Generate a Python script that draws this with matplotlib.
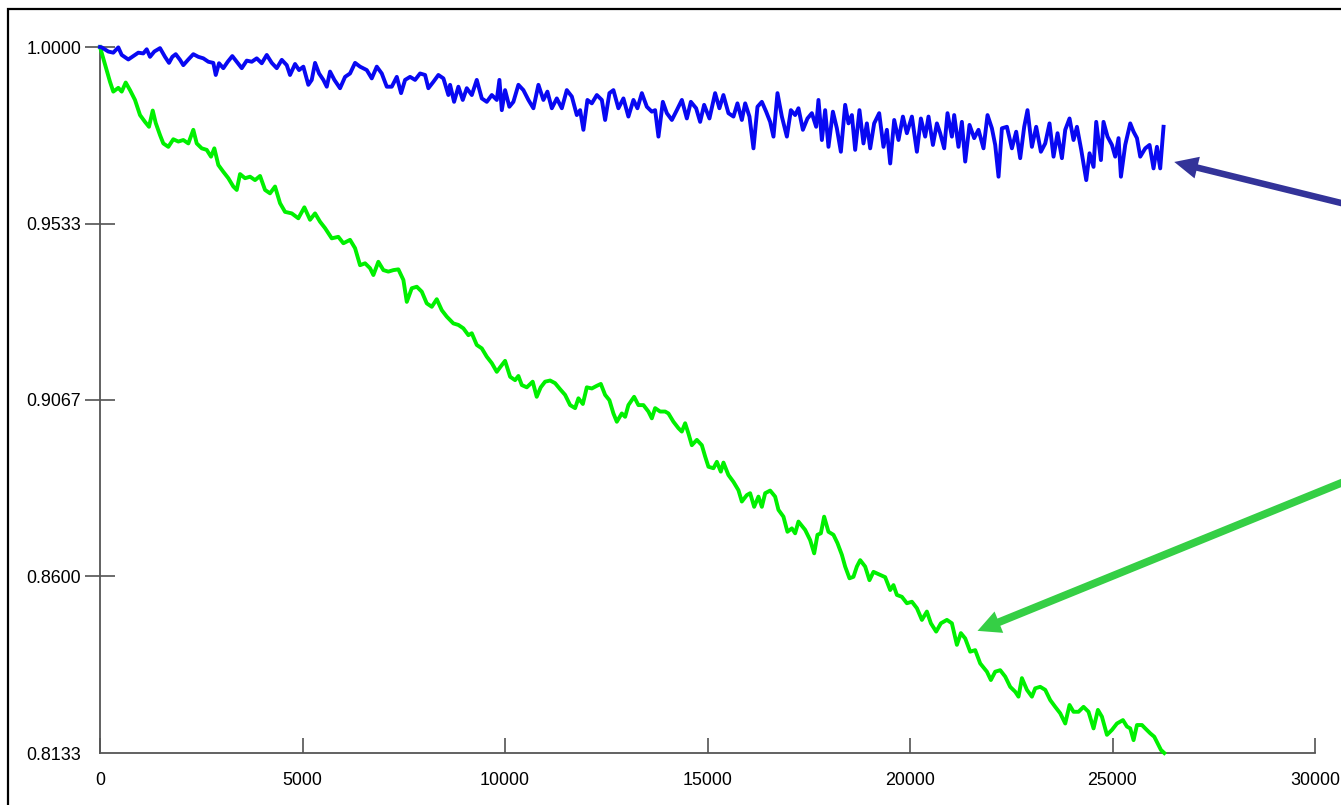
import matplotlib
matplotlib.use("Agg")
import matplotlib.pyplot as plt
from matplotlib.patches import Rectangle

# ---------------- data ----------------
green_x = [0,165,247,328,452,536,635,741,864,988,1111,1210,1302,1376,1482,1563,1687,1810,1934,2057,2181,2304,2388,2512,2635,2741,2823,2922,3045,3169,3292,3376,3458,3581,3705,3828,3952,4075,4198,4322,4445,4569,4734,4897,5046,5186,5310,5433,5557,5722,5885,6009,6174,6298,6421,6545,6668,6750,6873,6997,7120,7244,7367,7491,7575,7698,7822,7945,8068,8192,8315,8439,8562,8725,8849,8972,9096,9180,9303,9427,9550,9674,9797,9879,10002,10126,10249,10331,10415,10538,10684,10783,10882,10990,11114,11237,11361,11484,11608,11731,11813,11922,12020,12144,12267,12366,12472,12578,12677,12761,12884,12966,13047,13188,13294,13418,13541,13625,13707,13830,13954,14035,14159,14282,14366,14448,14529,14613,14737,14860,14942,15023,15147,15231,15329,15394,15517,15641,15764,15848,15971,16053,16152,16258,16342,16424,16547,16670,16752,16875,16974,17083,17164,17246,17411,17535,17634,17715,17799,17880,17987,18110,18209,18318,18399,18506,18604,18688,18770,18893,18999,19098,19222,19387,19511,19592,19676,19800,19923,20047,20170,20294,20417,20516,20646,20763,20911,21034,21158,21256,21363,21486,21610,21733,21899,21997,22104,22227,22351,22474,22598,22679,22763,22887,23010,23092,23215,23339,23462,23586,23709,23833,23939,24038,24161,24285,24408,24532,24640,24739,24863,24986,25110,25258,25356,25438,25520,25604,25727,25809,25932,26031,26113,26197,26278]
green_y = [1.0000,0.9939,0.9908,0.9882,0.9892,0.9882,0.9906,0.9886,0.9860,0.9820,0.9802,0.9789,0.9832,0.9799,0.9767,0.9745,0.9736,0.9756,0.9750,0.9754,0.9745,0.9781,0.9745,0.9732,0.9728,0.9710,0.9732,0.9688,0.9670,0.9653,0.9631,0.9622,0.9664,0.9653,0.9657,0.9648,0.9659,0.9622,0.9613,0.9631,0.9587,0.9564,0.9560,0.9547,0.9576,0.9543,0.9560,0.9538,0.9521,0.9494,0.9498,0.9481,0.9490,0.9468,0.9423,0.9428,0.9415,0.9397,0.9432,0.9410,0.9406,0.9410,0.9412,0.9384,0.9326,0.9362,0.9366,0.9353,0.9322,0.9313,0.9333,0.9304,0.9287,0.9269,0.9265,0.9256,0.9238,0.9243,0.9212,0.9203,0.9181,0.9164,0.9141,0.9153,0.9170,0.9128,0.9119,0.9130,0.9106,0.9100,0.9115,0.9075,0.9100,0.9115,0.9118,0.9111,0.9095,0.9080,0.9053,0.9045,0.9071,0.9056,0.9100,0.9097,0.9104,0.9109,0.9080,0.9066,0.9031,0.9009,0.9031,0.9022,0.9053,0.9075,0.9053,0.9053,0.9036,0.9018,0.9045,0.9036,0.9036,0.9031,0.9009,0.8992,0.8983,0.9005,0.8978,0.8947,0.8961,0.8947,0.8917,0.8890,0.8886,0.8903,0.8877,0.8901,0.8868,0.8850,0.8828,0.8798,0.8815,0.8820,0.8784,0.8811,0.8784,0.8820,0.8827,0.8811,0.8776,0.8758,0.8718,0.8727,0.8714,0.8745,0.8723,0.8696,0.8661,0.8710,0.8714,0.8758,0.8718,0.8710,0.8688,0.8657,0.8626,0.8595,0.8599,0.8626,0.8643,0.8626,0.8590,0.8612,0.8606,0.8598,0.8564,0.8577,0.8551,0.8546,0.8529,0.8533,0.8516,0.8485,0.8507,0.8476,0.8454,0.8476,0.8485,0.8476,0.8419,0.8450,0.8436,0.8401,0.8405,0.8370,0.8348,0.8326,0.8348,0.8352,0.8335,0.8308,0.8295,0.8282,0.8331,0.8300,0.8282,0.8304,0.8308,0.8300,0.8273,0.8255,0.8238,0.8211,0.8260,0.8242,0.8242,0.8255,0.8242,0.8198,0.8247,0.8229,0.8181,0.8194,0.8211,0.8220,0.8203,0.8198,0.8167,0.8207,0.8207,0.8198,0.8185,0.8176,0.8159,0.8141,0.8133]

blue_x = [0,42,205,328,452,536,699,822,946,1069,1153,1235,1341,1482,1605,1704,1786,1870,1976,2057,2181,2304,2428,2551,2675,2798,2858,2939,3045,3154,3267,3376,3500,3623,3747,3870,3994,4117,4241,4364,4488,4611,4692,4816,4915,5021,5144,5228,5310,5409,5515,5599,5680,5787,5927,6051,6174,6298,6421,6587,6710,6834,6957,7081,7204,7328,7434,7533,7656,7780,7903,8027,8108,8232,8355,8479,8602,8644,8743,8849,8957,9056,9180,9303,9427,9550,9674,9797,9862,9921,10002,10108,10207,10331,10454,10578,10701,10825,10948,11047,11156,11279,11403,11526,11650,11773,11855,11936,12035,12144,12267,12391,12472,12578,12677,12800,12924,13047,13171,13270,13379,13502,13625,13707,13789,13897,13996,14120,14243,14367,14490,14589,14719,14818,14917,15048,15188,15294,15393,15517,15641,15739,15848,15930,16036,16135,16234,16342,16448,16547,16629,16728,16836,16960,17059,17164,17246,17355,17468,17577,17683,17740,17824,17905,17987,18096,18194,18293,18399,18481,18565,18646,18752,18851,18935,19017,19115,19239,19345,19429,19511,19610,19716,19825,19923,20047,20170,20269,20375,20457,20566,20664,20745,20844,20926,21034,21091,21197,21281,21363,21469,21585,21691,21815,21914,22022,22104,22186,22269,22393,22516,22622,22721,22820,22901,23010,23116,23232,23339,23445,23544,23643,23751,23833,23939,24038,24122,24228,24352,24433,24532,24598,24714,24778,24877,24986,25067,25149,25208,25314,25438,25520,25604,25685,25809,25915,26013,26097,26178,26260]
blue_y = [1.0000,0.9999,0.9988,0.9985,0.9999,0.9979,0.9967,0.9976,0.9985,0.9983,0.9994,0.9974,0.9988,0.9997,0.9974,0.9958,0.9974,0.9981,0.9966,0.9952,0.9967,0.9981,0.9974,0.9970,0.9961,0.9958,0.9926,0.9957,0.9944,0.9961,0.9976,0.9961,0.9944,0.9964,0.9961,0.9970,0.9957,0.9979,0.9958,0.9944,0.9966,0.9952,0.9926,0.9955,0.9939,0.9948,0.9900,0.9913,0.9958,0.9930,0.9913,0.9895,0.9935,0.9913,0.9891,0.9921,0.9930,0.9958,0.9948,0.9939,0.9917,0.9948,0.9930,0.9895,0.9895,0.9921,0.9878,0.9913,0.9921,0.9913,0.9930,0.9926,0.9891,0.9908,0.9926,0.9917,0.9873,0.9900,0.9855,0.9895,0.9860,0.9891,0.9873,0.9913,0.9864,0.9855,0.9873,0.9860,0.9913,0.9833,0.9886,0.9842,0.9855,0.9900,0.9886,0.9860,0.9838,0.9900,0.9860,0.9882,0.9838,0.9864,0.9838,0.9886,0.9869,0.9820,0.9833,0.9781,0.9860,0.9851,0.9873,0.9860,0.9807,0.9878,0.9886,0.9838,0.9864,0.9816,0.9860,0.9838,0.9878,0.9842,0.9829,0.9833,0.9763,0.9855,0.9825,0.9807,0.9833,0.9860,0.9811,0.9855,0.9838,0.9802,0.9847,0.9811,0.9878,0.9838,0.9873,0.9825,0.9816,0.9851,0.9807,0.9851,0.9816,0.9732,0.9842,0.9855,0.9829,0.9802,0.9763,0.9878,0.9816,0.9763,0.9833,0.9820,0.9838,0.9781,0.9811,0.9825,0.9789,0.9860,0.9754,0.9833,0.9736,0.9829,0.9785,0.9723,0.9847,0.9798,0.9820,0.9728,0.9833,0.9745,0.9798,0.9732,0.9798,0.9825,0.9736,0.9781,0.9692,0.9807,0.9754,0.9816,0.9772,0.9816,0.9723,0.9811,0.9763,0.9816,0.9741,0.9798,0.9772,0.9732,0.9825,0.9763,0.9820,0.9736,0.9802,0.9697,0.9794,0.9759,0.9781,0.9732,0.9820,0.9785,0.9741,0.9657,0.9785,0.9789,0.9732,0.9776,0.9706,0.9789,0.9833,0.9736,0.9789,0.9723,0.9745,0.9798,0.9710,0.9772,0.9706,0.9781,0.9811,0.9754,0.9789,0.9728,0.9648,0.9719,0.9683,0.9802,0.9701,0.9802,0.9763,0.9741,0.9710,0.9759,0.9657,0.9741,0.9798,0.9776,0.9759,0.9710,0.9732,0.9741,0.9679,0.9736,0.9679,0.9789]

y_ticks = [1.0000, 0.9533, 0.9067, 0.8600, 0.8133]
y_tick_labels = ["1.0000", "0.9533", "0.9067", "0.8600", "0.8133"]
x_ticks = [0, 5000, 10000, 15000, 20000, 25000, 30000]
x_tick_labels = ["0", "5000", "10000", "15000", "20000", "25000", "30000"]

# annotation arrow tips (data coords)
blue_arrow_tip = (26525, 0.9696)
green_arrow_tip = (21667, 0.8456)

# ---------------- figure ----------------
plt.rcParams['font.family'] = ['Liberation Sans', 'DejaVu Sans']
W, H = 1341, 805
fig = plt.figure(figsize=(W / 100, H / 100), dpi=100)
fig.patch.set_facecolor('white')

# outer frame (cropped at right/bottom)
fig.add_artist(Rectangle((8 / W, -0.2), 1.5, 1.2 - 9 / H,
                         transform=fig.transFigure, fill=False,
                         edgecolor='black', linewidth=1.6))

ax = fig.add_axes([100 / W, 1 - 753 / H, 1215 / W, 706 / H])
ax.set_xlim(0, 30000)
ax.set_ylim(0.8133, 1.0)

ax.plot(green_x, green_y, color='#00f000', lw=2.8, clip_on=False,
        solid_joinstyle='round', zorder=3)
ax.plot(blue_x, blue_y, color='#0808f2', lw=2.8, clip_on=False,
        solid_joinstyle='round', zorder=4)

for s in ['top', 'right']:
    ax.spines[s].set_visible(False)
for s in ['left', 'bottom']:
    ax.spines[s].set_color('#555555')
    ax.spines[s].set_linewidth(1.3)

ax.set_yticks(y_ticks)
ax.set_yticklabels(y_tick_labels)
ax.set_xticks(x_ticks)
ax.set_xticklabels(x_tick_labels)
ax.tick_params(axis='y', direction='inout', length=21, width=1.1,
               color='#444444', pad=3, labelsize=12.9, labelcolor='black')
ax.tick_params(axis='x', direction='in', length=10.5, width=1.1,
               color='#444444', pad=14, labelsize=12.9, labelcolor='black')
# bottom y tick coincides with x axis: no tick mark there
for t in ax.yaxis.get_major_ticks():
    if abs(t.get_loc() - 0.8133) < 1e-6:
        t.tick1line.set_visible(False)
        t.tick2line.set_visible(False)

# arrows coming in from the right edge
ax.annotate('', xy=blue_arrow_tip, xycoords='data',
            xytext=(1420, H - 222.4), textcoords='figure pixels',
            arrowprops=dict(arrowstyle='simple,head_length=1.7,head_width=1.6,tail_width=0.47',
                            mutation_scale=10, fc='#333399', ec='none',
                            shrinkA=0, shrinkB=0),
            annotation_clip=False)
ax.annotate('', xy=green_arrow_tip, xycoords='data',
            xytext=(1420, H - 450.9), textcoords='figure pixels',
            arrowprops=dict(arrowstyle='simple,head_length=1.66,head_width=1.66,tail_width=0.56',
                            mutation_scale=10, fc='#35cf45', ec='none',
                            shrinkA=0, shrinkB=0),
            annotation_clip=False)

fig.savefig('out.png', dpi=100, facecolor='white')
